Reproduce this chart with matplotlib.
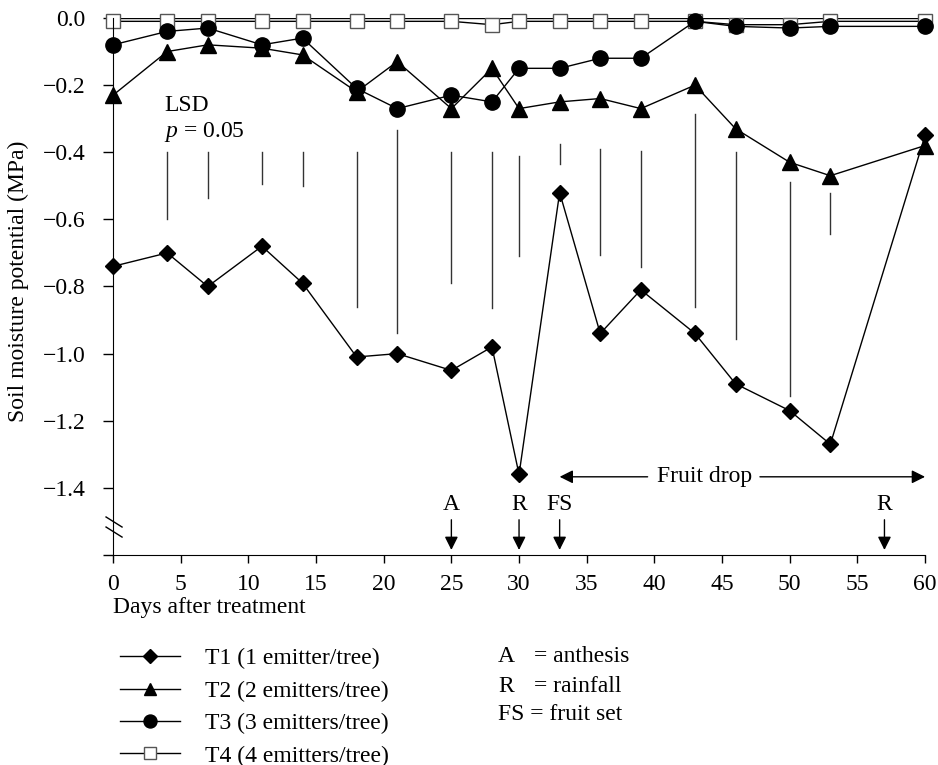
import matplotlib
matplotlib.use("Agg")
import matplotlib.pyplot as plt

plt.rcParams['font.family'] = ['Liberation Serif', 'DejaVu Serif']
plt.rcParams['font.size'] = 17
plt.rcParams['mathtext.fontset'] = 'custom'
plt.rcParams['mathtext.rm'] = 'Liberation Serif'
plt.rcParams['mathtext.it'] = 'Liberation Serif:italic'

days = [0, 4, 7, 11, 14, 18, 21, 25, 28, 30, 33, 36, 39, 43, 46, 50, 53, 60]
t1 = [-0.74, -0.70, -0.80, -0.68, -0.79, -1.01, -1.00, -1.05, -0.98, -1.36,
      -0.52, -0.94, -0.81, -0.94, -1.09, -1.17, -1.27, -0.35]
t2 = [-0.23, -0.10, -0.08, -0.09, -0.11, -0.22, -0.13, -0.27, -0.15, -0.27,
      -0.25, -0.24, -0.27, -0.20, -0.33, -0.43, -0.47, -0.38]
t3 = [-0.08, -0.04, -0.03, -0.08, -0.06, -0.21, -0.27, -0.23, -0.25, -0.15,
      -0.15, -0.12, -0.12, -0.01, -0.025, -0.03, -0.025, -0.025]
t4 = [-0.01, -0.01, -0.01, -0.01, -0.01, -0.01, -0.01, -0.01, -0.02, -0.01,
      -0.01, -0.01, -0.01, -0.01, -0.02, -0.02, -0.01, -0.01]

# LSD (p = 0.05) bars
lsd_days = [4, 7, 11, 14, 18, 21, 25, 28, 30, 33, 36, 39, 43, 46, 50, 53]
lsd_top = [-0.40, -0.40, -0.40, -0.40, -0.40, -0.335, -0.40, -0.40, -0.41,
           -0.375, -0.39, -0.395, -0.287, -0.40, -0.49, -0.52]
lsd_bottom = [-0.60, -0.535, -0.495, -0.50, -0.86, -0.94, -0.79, -0.865, -0.71,
              -0.435, -0.705, -0.743, -0.86, -0.955, -1.125, -0.645]

events = [(25, 'A'), (30, 'R'), (33, 'FS'), (57, 'R')]
labels = ['T1 (1 emitter/tree)', 'T2 (2 emitters/tree)',
          'T3 (3 emitters/tree)', 'T4 (4 emitters/tree)']

fig = plt.figure(figsize=(9.38, 7.65), dpi=100)
ax = fig.add_axes([0.1205, 0.2745, 0.8657, 0.702])

ax.axhline(0, color='black', lw=1, zorder=1)
for d, top, bot in zip(lsd_days, lsd_top, lsd_bottom):
    ax.plot([d, d], [top, bot], color='#333333', lw=1)

lw = 1
h1, = ax.plot(days, t1, '-', color='black', lw=lw, marker='D', ms=8,
              mfc='black', mec='black', clip_on=False, zorder=3)
h2, = ax.plot(days, t2, '-', color='black', lw=lw, marker='^', ms=11,
              mfc='black', mec='black', clip_on=False, zorder=3)
h3, = ax.plot(days, t3, '-', color='black', lw=lw, marker='o', ms=11,
              mfc='black', mec='black', clip_on=False, zorder=3)
h4, = ax.plot(days, t4, '-', color='black', lw=lw, marker='s', ms=10,
              mfc='white', mec='#555555', mew=1, clip_on=False, zorder=2)

ax.text(3.8, -0.26, 'LSD', ha='left', va='center')
ax.text(3.8, -0.34, '$p$ = 0.05', ha='left', va='center')

for d, lab in events:
    ax.annotate('', xy=(d, -1.585), xytext=(d, -1.495),
                arrowprops=dict(arrowstyle='-|>', color='black', lw=1,
                                mutation_scale=20, shrinkA=0, shrinkB=0))
    ax.text(d, -1.45, lab, ha='center', va='center')

# Fruit drop span
ax.annotate('', xy=(33, -1.367), xytext=(39.5, -1.367),
            arrowprops=dict(arrowstyle='-|>', color='black', lw=1,
                            mutation_scale=20, shrinkA=0, shrinkB=0))
ax.annotate('', xy=(60, -1.367), xytext=(47.8, -1.367),
            arrowprops=dict(arrowstyle='-|>', color='black', lw=1,
                            mutation_scale=20, shrinkA=0, shrinkB=0),
            annotation_clip=False)
ax.text(43.7, -1.367, 'Fruit drop', ha='center', va='center')

# axis break marks
for y0 in (0.0708, 0.0521):
    ax.plot([-0.0086, 0.0111], [y0, y0 - 0.0187], color='black', lw=1,
            transform=ax.transAxes, clip_on=False)

ax.set_xlim(0, 60)
ax.set_ylim(-1.6, 0)
ax.set_xticks(range(0, 61, 5))
yt = [0, -0.2, -0.4, -0.6, -0.8, -1.0, -1.2, -1.4, -1.6]
ax.set_yticks(yt)
ax.set_yticklabels([f'{v:.1f}'.replace('-', '\u2212') if v != 0 else '0.0'
                    for v in yt[:-1]] + [''])
ax.tick_params(axis='y', direction='out', length=7, width=1, pad=13)
ax.tick_params(axis='x', direction='out', length=6, width=1, pad=8)
for s in ('top', 'right'):
    ax.spines[s].set_visible(False)
ax.set_ylabel('Soil moisture potential (MPa)', fontsize=17)
ax.yaxis.set_label_coords(-0.103, 0.51)

fig.text(113 / 938, 1 - 608 / 765, 'Days after treatment', ha='left', va='center')

leg = fig.legend([h1, h2, h3, h4], labels, loc='upper left',
                 bbox_to_anchor=(120 / 938, 1 - 648 / 765), frameon=False,
                 numpoints=1, handlelength=2.54, handletextpad=1.06,
                 labelspacing=0.46, fontsize=17, borderaxespad=0, borderpad=0,
                 markerscale=0.85)

abbr = ['A', 'R']
meaning = ['= anthesis', '= rainfall']
ab_y = [657, 687]
for a, m, y in zip(abbr, meaning, ab_y):
    fig.text(498 / 938, 1 - y / 765, a, ha='left', va='center')
    fig.text(534 / 938, 1 - y / 765, m, ha='left', va='center')
fig.text(498 / 938, 1 - 715 / 765, 'FS = fruit set', ha='left', va='center')

fig.savefig('out.png', dpi=100)
